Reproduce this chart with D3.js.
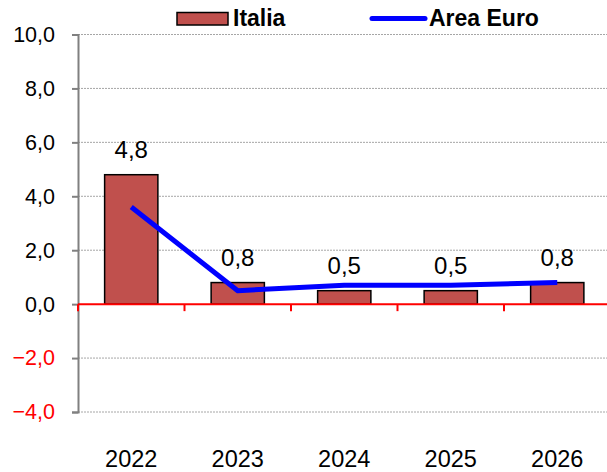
<!DOCTYPE html>
<html>
<head>
<meta charset="utf-8">
<script src="https://cdn.jsdelivr.net/npm/d3@7"></script>
<style>
  body { margin: 0; background: #fff; }
  text { font-family: Arial, "Liberation Sans", sans-serif; }
</style>
</head>
<body>
<div id="chart"></div>
<script>
// dati
var years = ['2022', '2023', '2024', '2025', '2026']
var italia = [4.8, 0.8, 0.5, 0.5, 0.8]
var areaEuro = [3.6, 0.5, 0.7, 0.7, 0.8]
var yTicks = [-4, -2, 0, 2, 4, 6, 8, 10]

var width = 607, height = 472
var plotLeft = 78, plotRight = 610.5, plotTop = 34.5, plotBottom = 412

var svg = d3.select('#chart').append('svg')
    .attr('width', width)
    .attr('height', height)

var x = d3.scaleBand().domain(years).range([plotLeft, plotRight])
var y = d3.scaleLinear().domain([-4, 10]).range([plotBottom, plotTop])
var fmt = function (v) { return d3.format('.1f')(v).replace('.', ',') }

// griglia
svg.append('g').selectAll('line')
    .data(yTicks.filter(function (t) { return t != 0 }))
    .enter().append('line')
    .attr('x1', plotLeft).attr('x2', width)
    .attr('y1', function (d) { return y(d) }).attr('y2', function (d) { return y(d) })
    .attr('stroke', '#a6a6a6')
    .attr('stroke-width', 1)
    .attr('stroke-dasharray', '2,1')

// asse y
var yAxis = svg.append('g')
    .attr('transform', 'translate(' + plotLeft + ',0)')
    .call(d3.axisLeft(y).tickValues(yTicks).tickSize(6).tickPadding(17).tickFormat(fmt))
yAxis.select('.domain').attr('stroke', '#808080').attr('stroke-width', 2)
yAxis.selectAll('.tick line').attr('stroke', '#808080').attr('stroke-width', 2)
yAxis.selectAll('.tick text')
    .attr('font-size', 21.5)
    .attr('font-family', 'Arial, "Liberation Sans", sans-serif')
    .attr('fill', function (d) { return d < 0 ? '#ff0000' : '#000' })

// barre
svg.append('g').selectAll('rect')
    .data(italia)
    .enter().append('rect')
    .attr('x', function (d, i) { return x(years[i]) + x.bandwidth() / 4 })
    .attr('width', x.bandwidth() / 2)
    .attr('y', function (d) { return y(d) })
    .attr('height', function (d) { return y(0) - y(d) })
    .attr('fill', '#C0504D')
    .attr('stroke', '#000')
    .attr('stroke-width', 1.5)

// asse x sullo zero
var xAxis = svg.append('g')
    .attr('transform', 'translate(0,' + y(0) + ')')
xAxis.append('line')
    .attr('x1', plotLeft).attr('x2', width)
    .attr('y1', 0).attr('y2', 0)
    .attr('stroke', '#ff0000').attr('stroke-width', 2)
xAxis.selectAll('line.tk')
    .data(years)
    .enter().append('line')
    .attr('class', 'tk')
    .attr('x1', function (d) { return x(d) }).attr('x2', function (d) { return x(d) })
    .attr('y1', 0).attr('y2', 7)
    .attr('stroke', '#ff0000').attr('stroke-width', 2)

// etichette anni
svg.append('g').selectAll('text')
    .data(years)
    .enter().append('text')
    .attr('x', function (d) { return x(d) + x.bandwidth() / 2 })
    .attr('y', 467)
    .attr('text-anchor', 'middle')
    .attr('font-size', 23.5)
    .text(function (d) { return d })

// linea area euro
var line = d3.line()
    .x(function (d, i) { return x(years[i]) + x.bandwidth() / 2 })
    .y(function (d) { return y(d) })
svg.append('path')
    .datum(areaEuro)
    .attr('d', line)
    .attr('fill', 'none')
    .attr('stroke', '#0000ff')
    .attr('stroke-width', 5)
    .attr('stroke-linejoin', 'round')

// valori
svg.append('g').selectAll('text')
    .data(italia)
    .enter().append('text')
    .attr('x', function (d, i) { return x(years[i]) + x.bandwidth() / 2 })
    .attr('y', function (d) { return y(d) - 17 })
    .attr('text-anchor', 'middle')
    .attr('font-size', 24)
    .text(fmt)

// legenda
var leg = svg.append('g')
leg.append('rect')
    .attr('x', 177).attr('y', 12.5).attr('width', 51).attr('height', 12.5)
    .attr('fill', '#C0504D').attr('stroke', '#000').attr('stroke-width', 1.5)
leg.append('text')
    .attr('x', 233).attr('y', 26)
    .attr('font-size', 23).attr('font-weight', 'bold')
    .text('Italia')
leg.append('line')
    .attr('x1', 372).attr('x2', 425).attr('y1', 18.5).attr('y2', 18.5)
    .attr('stroke', '#0000ff').attr('stroke-width', 5).attr('stroke-linecap', 'round')
leg.append('text')
    .attr('x', 429).attr('y', 26)
    .attr('font-size', 23).attr('font-weight', 'bold')
    .text('Area Euro')
</script>
</body>
</html>
